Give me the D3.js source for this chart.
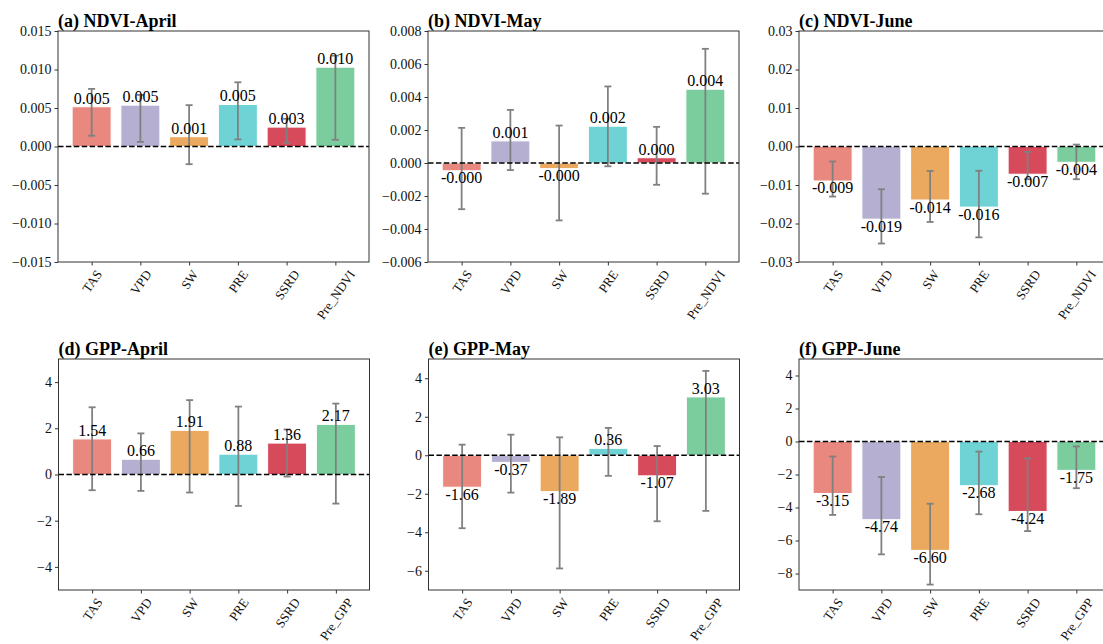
<!DOCTYPE html>
<html>
<head>
<meta charset="utf-8">
<script src="https://cdn.jsdelivr.net/npm/d3@7"></script>
<style>
  html, body { margin: 0; padding: 0; background: #fff; }
  svg { display: block; }
  text { font-family: "Liberation Serif", "Times New Roman", serif; }
</style>
</head>
<body>
<svg id="chart" width="1103" height="644"></svg>
<script>
// ---------------- DATA ----------------
const categories = ["TAS", "VPD", "SW", "PRE", "SSRD"];
const barColors = ["#E8887E", "#B5AFD1", "#EAA95E", "#6FD3D6", "#D74A5B", "#7BCD9D"];

// (a) NDVI-April
const ndviAprilValues = [0.00516, 0.00537, 0.00127, 0.00546, 0.00252, 0.0103];
const ndviAprilLow    = [0.0014, 0.0006, -0.0023, 0.00092, 0.00048, 0.00087];
const ndviAprilHigh   = [0.00748, 0.0067, 0.00537, 0.00834, 0.0036, 0.0118];
const ndviAprilTicks  = [-0.015, -0.010, -0.005, 0, 0.005, 0.010, 0.015];

// (b) NDVI-May
const ndviMayValues = [-0.00047, 0.00134, -0.00034, 0.00223, 0.00032, 0.00447];
const ndviMayLow    = [-0.0028, -0.00043, -0.00348, -0.0002, -0.00132, -0.00186];
const ndviMayHigh   = [0.00213, 0.00322, 0.00227, 0.00464, 0.00219, 0.00692];
const ndviMayTicks  = [-0.006, -0.004, -0.002, 0, 0.002, 0.004, 0.006, 0.008];

// (c) NDVI-June
const ndviJuneValues = [-0.00896, -0.01887, -0.0139, -0.01574, -0.0072, -0.0041];
const ndviJuneLow    = [-0.013, -0.0252, -0.0196, -0.0236, -0.0085, -0.0085];
const ndviJuneHigh   = [-0.0039, -0.0111, -0.00635, -0.0063, -0.0014, 0.0005];
const ndviJuneTicks  = [-0.03, -0.02, -0.01, 0, 0.01, 0.02, 0.03];

// (d) GPP-April
const gppAprilValues = [1.54, 0.66, 1.91, 0.88, 1.36, 2.17];
const gppAprilLow    = [-0.68, -0.71, -0.78, -1.36, -0.09, -1.26];
const gppAprilHigh   = [2.91, 1.78, 3.22, 2.94, 1.95, 3.07];
const gppAprilTicks  = [-4, -2, 0, 2, 4];

// (e) GPP-May
const gppMayValues = [-1.66, -0.37, -1.89, 0.36, -1.07, 3.03];
const gppMayLow    = [-3.79, -1.94, -5.88, -1.07, -3.43, -2.89];
const gppMayHigh   = [0.55, 1.07, 0.93, 1.42, 0.48, 4.38];
const gppMayTicks  = [-6, -4, -2, 0, 2, 4];

// (f) GPP-June
const gppJuneValues = [-3.15, -4.74, -6.60, -2.68, -4.24, -1.75];
const gppJuneLow    = [-4.45, -6.84, -8.67, -4.41, -5.43, -2.83];
const gppJuneHigh   = [-0.91, -2.15, -3.77, -0.61, -1.03, -0.30];
const gppJuneTicks  = [-8, -6, -4, -2, 0, 2, 4];

// ---------------- PANELS ----------------
const panels = [
  {title: "(a) NDVI-April", left: 58,  top: 31,  vals: ndviAprilValues, lo: ndviAprilLow, hi: ndviAprilHigh, ticks: ndviAprilTicks, domain: [-0.015, 0.015], fmt: ".3f", digits: 3, last: "Pre_NDVI"},
  {title: "(b) NDVI-May",   left: 428, top: 31,  vals: ndviMayValues,   lo: ndviMayLow,   hi: ndviMayHigh,   ticks: ndviMayTicks,   domain: [-0.006, 0.008], fmt: ".3f", digits: 3, last: "Pre_NDVI"},
  {title: "(c) NDVI-June",  left: 799, top: 31,  vals: ndviJuneValues,  lo: ndviJuneLow,  hi: ndviJuneHigh,  ticks: ndviJuneTicks,  domain: [-0.03, 0.03],   fmt: ".2f", digits: 3, last: "Pre_NDVI"},
  {title: "(d) GPP-April",  left: 58.5, top: 359, vals: gppAprilValues, lo: gppAprilLow,  hi: gppAprilHigh,  ticks: gppAprilTicks,  domain: [-5, 5], fmt: "d", digits: 2, last: "Pre_GPP"},
  {title: "(e) GPP-May",    left: 428.5, top: 359, vals: gppMayValues,  lo: gppMayLow,    hi: gppMayHigh,    ticks: gppMayTicks,    domain: [-7, 5], fmt: "d", digits: 2, last: "Pre_GPP"},
  {title: "(f) GPP-June",   left: 799, top: 359, vals: gppJuneValues,   lo: gppJuneLow,   hi: gppJuneHigh,   ticks: gppJuneTicks,   domain: [-9, 5], fmt: "d", digits: 2, last: "Pre_GPP"}
];

const W = 311, H = 231;
const svg = d3.select("#chart");
svg.append("rect").attr("width", 1103).attr("height", 644).attr("fill", "#fff");

const ROT = 55;

panels.forEach(p => {
  const labels = categories.concat([p.last]);
  const idx = d3.range(labels.length);
  const x = d3.scaleLinear().domain([-0.69, 5.69]).range([p.left, p.left + W]);
  const y = d3.scaleLinear().domain(p.domain).range([p.top + H, p.top]);
  const bw = x(0.4) - x(-0.4);
  const g = svg.append("g");

  // bars
  g.selectAll("rect.bar").data(idx).join("rect")
    .attr("class", "bar")
    .attr("x", i => x(i) - bw / 2)
    .attr("width", bw)
    .attr("y", i => Math.min(y(p.vals[i]), y(0)))
    .attr("height", i => Math.abs(y(p.vals[i]) - y(0)))
    .attr("fill", i => barColors[i])
    .attr("stroke", "#fff").attr("stroke-width", 1);

  // error bars
  const eb = g.selectAll("g.err").data(idx).join("g").attr("class", "err")
    .attr("stroke", "#808080").attr("stroke-width", 1.8);
  eb.append("line").attr("x1", i => x(i)).attr("x2", i => x(i))
    .attr("y1", i => y(p.lo[i])).attr("y2", i => y(p.hi[i]));
  eb.append("line").attr("x1", i => x(i) - 3.5).attr("x2", i => x(i) + 3.5)
    .attr("y1", i => y(p.lo[i])).attr("y2", i => y(p.lo[i]));
  eb.append("line").attr("x1", i => x(i) - 3.5).attr("x2", i => x(i) + 3.5)
    .attr("y1", i => y(p.hi[i])).attr("y2", i => y(p.hi[i]));

  // zero dashed line
  g.append("line").attr("x1", p.left).attr("x2", p.left + W)
    .attr("y1", y(0)).attr("y2", y(0))
    .attr("stroke", "#000").attr("stroke-width", 1.5).attr("stroke-dasharray", "5.5,2.4");

  // value labels
  g.selectAll("text.val").data(idx).join("text")
    .attr("class", "val")
    .attr("x", i => x(i))
    .attr("y", i => p.vals[i] >= 0 ? y(p.vals[i]) - 3 : y(p.vals[i]) + 12.5)
    .attr("text-anchor", "middle")
    .attr("font-size", 16)
    .attr("fill", "#000")
    .text(i => p.vals[i].toFixed(p.digits));

  // frame
  g.append("rect").attr("x", p.left).attr("y", p.top).attr("width", W).attr("height", H)
    .attr("fill", "none").attr("stroke", "#333").attr("stroke-width", 1);

  // y axis
  const ya = g.append("g").attr("transform", `translate(${p.left},0)`)
    .call(d3.axisLeft(y).tickValues(p.ticks).tickFormat(d3.format(p.fmt)).tickSize(3.5).tickPadding(3));
  ya.select(".domain").remove();
  ya.selectAll(".tick line").attr("stroke", "#333");
  ya.selectAll(".tick text").attr("font-size", 14).attr("fill", "#111")
    .attr("font-family", "'Liberation Serif', 'Times New Roman', serif");

  // x axis
  const xa = g.append("g").attr("transform", `translate(0,${p.top + H})`)
    .call(d3.axisBottom(x).tickValues(idx).tickFormat(i => labels[i]).tickSize(3.5));
  xa.select(".domain").remove();
  xa.selectAll(".tick line").attr("stroke", "#333");
  const rad = ROT * Math.PI / 180;
  xa.selectAll(".tick text")
    .attr("font-size", 13).attr("fill", "#111")
    .attr("font-family", "'Liberation Serif', 'Times New Roman', serif")
    .attr("y", null).attr("dy", null)
    .attr("text-anchor", "middle")
    .attr("dominant-baseline", "central")
    .each(function() {
      const w = this.getComputedTextLength();
      const h = 9;
      const halfH = (w * Math.sin(rad) + h * Math.cos(rad)) / 2;
      d3.select(this).attr("transform", `translate(0,${7 + halfH}) rotate(${-ROT})`);
    });

  // title
  g.append("text").attr("x", p.left).attr("y", p.top - 4.5)
    .attr("font-size", 18).attr("font-weight", "bold").attr("fill", "#000")
    .text(p.title);
});
</script>
</body>
</html>
